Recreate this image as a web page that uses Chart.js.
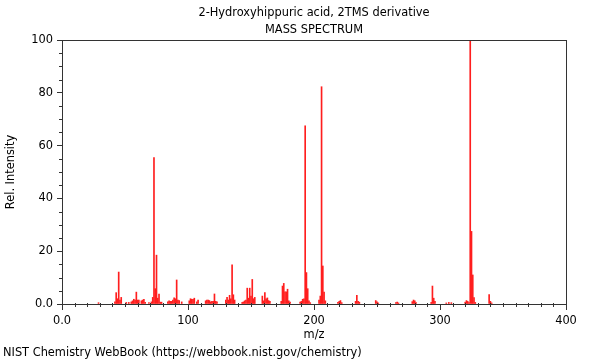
<!DOCTYPE html>
<html>
<head>
<meta charset="utf-8">
<script src="https://cdn.jsdelivr.net/npm/chart.js@4/dist/chart.umd.min.js"></script>
<style>
  html, body { margin: 0; padding: 0; background: #fff; }
  #wrap { width: 600px; height: 360px; position: relative; }
</style>
</head>
<body>
<div id="wrap"><canvas id="c" width="600" height="360"></canvas></div>
<script>
const titleLines = ['2-Hydroxyhippuric acid, 2TMS derivative', 'MASS SPECTRUM'];
const footerText = 'NIST Chemistry WebBook (https://webbook.nist.gov/chemistry)';
const xLabel = 'm/z';
const yLabel = 'Rel. Intensity';

const mz = [29, 42, 43, 44, 45, 46, 47, 51, 53, 55, 56, 57, 58, 59, 60, 61, 63, 64, 65, 66, 69, 71, 72, 73, 74, 75, 76, 77, 78, 79,
  84, 85, 86, 87, 88, 89, 90, 91, 92, 93, 95, 101, 102, 103, 104, 105, 107, 108,
  114, 115, 116, 117, 118, 119, 120, 121, 122, 123, 130, 131, 132, 133, 134, 135, 136, 137,
  143, 144, 145, 146, 147, 148, 149, 150, 151, 152, 153, 159, 160, 161, 162, 163, 164, 165,
  174, 175, 176, 177, 178, 179, 180, 181, 189, 190, 191, 192, 193, 194, 195, 196, 197,
  204, 205, 206, 207, 208, 209, 219, 220, 221, 222, 233, 234, 235, 236, 249, 250, 251,
  265, 266, 267, 278, 279, 280, 281, 293, 294, 295, 296, 305, 307, 309,
  320, 321, 322, 323, 324, 325, 326, 327, 328, 339, 340, 341];
const intensity = [0.5, 0.8, 4.3, 2.0, 12.1, 1.5, 2.5, 0.6, 0.6, 0.8, 1.2, 1.8, 1.5, 4.5, 1.5, 1.5, 1.2, 1.5, 1.8, 0.6, 0.5, 0.8, 2.5, 55.5, 5.8, 18.5, 2.2, 3.8, 0.7, 0.7,
  0.8, 1.2, 1.0, 1.0, 1.5, 2.3, 2.0, 9.1, 1.5, 1.3, 0.8, 1.2, 2.0, 1.8, 1.8, 2.2, 0.8, 1.5,
  1.2, 1.5, 1.5, 1.3, 0.8, 1.0, 1.0, 3.8, 1.0, 0.8, 1.5, 2.5, 1.5, 3.3, 2.0, 14.8, 3.5, 1.5,
  0.6, 0.8, 1.2, 1.5, 6.0, 2.2, 6.0, 3.0, 9.3, 2.0, 2.5, 3.0, 1.2, 4.3, 2.0, 2.3, 1.3, 1.0,
  1.0, 6.8, 7.8, 4.6, 4.6, 5.6, 1.2, 0.7, 0.7, 1.0, 1.8, 2.0, 67.5, 11.9, 5.8, 1.2, 0.5,
  1.5, 3.0, 82.3, 14.4, 4.5, 1.2, 0.6, 1.0, 1.3, 0.5, 1.0, 3.3, 1.0, 0.7, 1.3, 0.8, 0.4,
  0.5, 0.7, 0.4, 0.9, 1.5, 1.2, 0.5, 0.6, 6.8, 2.2, 1.0, 0.4, 0.6, 0.5,
  0.7, 1.3, 1.0, 0.5, 100, 27.5, 11.0, 2.4, 0.6, 3.6, 1.0, 0.4];

const xTicks = [0, 100, 200, 300, 400];
const yTicks = [0, 20, 40, 60, 80, 100];

const FONT = 'DejaVu Sans';
const FSIZE = 11.4;
const AXIS_COLOR = '#333';

const framePlugin = {
  id: 'frame',
  afterDraw(chart) {
    const ctx = chart.ctx;
    const a = chart.chartArea;
    const xs = chart.scales.x, ys = chart.scales.y;
    ctx.save();
    ctx.strokeStyle = AXIS_COLOR;
    ctx.lineWidth = 1;
    ctx.strokeRect(Math.round(a.left) + 0.5, Math.round(a.top) + 0.5,
      Math.round(a.right - a.left), Math.round(a.bottom - a.top));
    ctx.beginPath();
    for (let v = 10; v < 400; v += 10) {
      if (v % 100 === 0) continue;
      const px = Math.round(xs.getPixelForValue(v)) + 0.5;
      ctx.moveTo(px, a.bottom - 1);
      ctx.lineTo(px, a.bottom + 3);
    }
    for (let v = 5; v < 100; v += 5) {
      if (v % 20 === 0) continue;
      const py = Math.round(ys.getPixelForValue(v)) + 0.5;
      ctx.moveTo(a.left - 3, py);
      ctx.lineTo(a.left + 1, py);
    }
    ctx.stroke();
    ctx.fillStyle = '#000';
    ctx.font = FSIZE + 'px "' + FONT + '"';
    ctx.textAlign = 'center';
    ctx.textBaseline = 'middle';
    const cx = (a.left + a.right) / 2;
    ctx.fillText(titleLines[0], cx, 13);
    ctx.fillText(titleLines[1], cx, 30);
    ctx.textAlign = 'left';
    ctx.fillText(footerText, 3, 353);
    ctx.restore();
  }
};

const fmt = v => (v === 0 ? '0.0' : String(v));

new Chart(document.getElementById('c'), {
  type: 'bar',
  data: {
    datasets: [{
      data: mz.map((m, i) => ({ x: m, y: intensity[i] })),
      backgroundColor: 'rgb(255,30,30)',
      borderWidth: 0,
      barThickness: 1,
      grouped: false
    }]
  },
  options: {
    responsive: true,
    maintainAspectRatio: false,
    animation: false,
    events: [],
    layout: { padding: { left: 0, right: 34, top: 40, bottom: 18 } },
    plugins: { legend: { display: false }, tooltip: { enabled: false }, title: { display: false } },
    scales: {
      x: {
        type: 'linear',
        offset: false,
        min: 0, max: 400,
        afterBuildTicks: s => { s.ticks = xTicks.map(v => ({ value: v })); },
        afterFit: s => { s.height = 38; },
        ticks: { callback: fmt, color: '#000', font: { family: FONT, size: FSIZE }, padding: 4, maxRotation: 0, autoSkip: false },
        grid: { offset: false, drawOnChartArea: false, drawTicks: true, tickLength: 6, color: AXIS_COLOR },
        border: { display: true, color: AXIS_COLOR },
        title: { display: true, text: xLabel, color: '#000', font: { family: FONT, size: FSIZE }, padding: { top: 0, bottom: 0 } }
      },
      y: {
        min: 0, max: 100,
        afterBuildTicks: s => { s.ticks = yTicks.map(v => ({ value: v })); },
        afterFit: s => { s.width = 62; },
        ticks: { callback: fmt, color: '#000', font: { family: FONT, size: FSIZE }, padding: 4, autoSkip: false },
        grid: { drawOnChartArea: false, drawTicks: true, tickLength: 5, color: AXIS_COLOR },
        border: { display: true, color: AXIS_COLOR },
        title: { display: true, text: yLabel, color: '#000', font: { family: FONT, size: FSIZE }, padding: { top: 4, bottom: 4 } }
      }
    }
  },
  plugins: [framePlugin]
});
</script>
</body>
</html>
